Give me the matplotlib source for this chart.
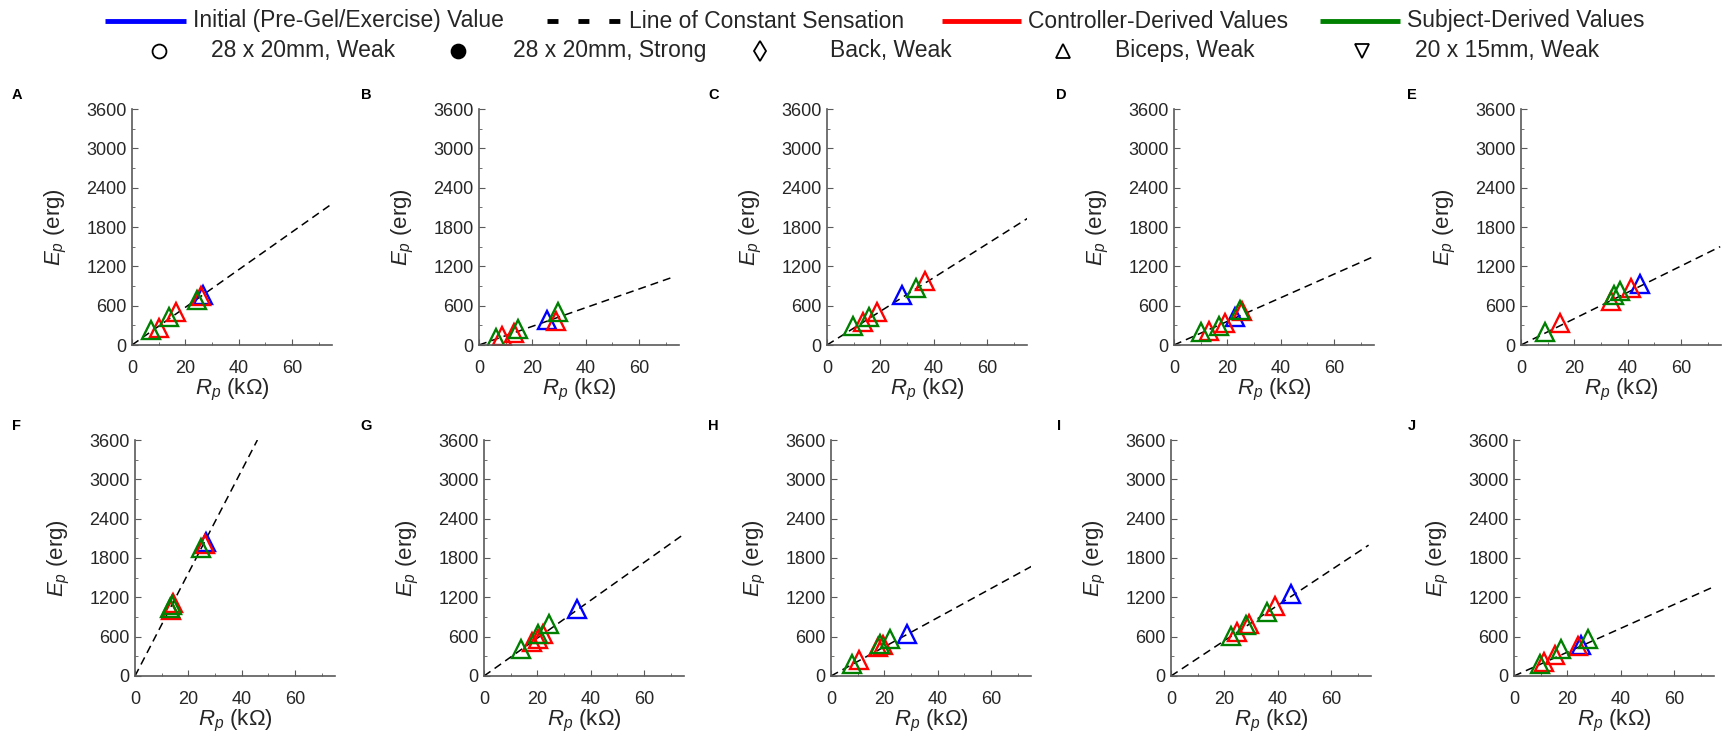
import numpy as np
import matplotlib.pyplot as plt
from matplotlib.lines import Line2D
from matplotlib.ticker import MultipleLocator

plt.rcParams['font.family'] = ['Liberation Sans', 'DejaVu Sans']
plt.rcParams['mathtext.fontset'] = 'custom'
plt.rcParams['mathtext.rm'] = 'Liberation Sans'
plt.rcParams['mathtext.it'] = 'Liberation Sans:italic'

# panel letters
panels = ['A', 'B', 'C', 'D', 'E', 'F', 'G', 'H', 'I', 'J']

# initial (pre-gel/exercise) value, R_p in kOhm, E_p in erg
blue_r = [26.8, 25.4, 28.2, 23.0, 44.8, 26.6, 34.8, 28.4, 45.0, 25.1]
blue_e = [770, 380, 763, 422, 932, 2047, 1029, 647, 1258, 468]

# controller-derived values
red_r = [[10.0, 16.5, 25.8], [8.5, 13.0, 29.0], [13.5, 18.8, 36.8],
         [13.0, 19.2, 25.5], [14.7, 33.9, 41.3], [13.6, 14.4, 26.2],
         [17.9, 20.4, 22.0], [10.6, 17.5, 19.4], [24.8, 29.1, 39.1],
         [11.4, 15.2, 24.0]]
red_e = [[265, 500, 745], [130, 180, 370], [356, 509, 977],
         [219, 330, 519], [331, 672, 866], [1000, 1110, 2010],
         [519, 570, 636], [239, 443, 468], [672, 799, 1069],
         [214, 316, 453]]

# subject-derived values
green_r = [[7.3, 14.0, 24.3], [6.5, 14.7, 29.8], [9.8, 15.7, 33.2],
           [10.0, 17.0, 24.6], [9.0, 35.0, 37.0], [13.0, 13.8, 24.6],
           [13.8, 20.1, 24.4], [7.8, 18.4, 22.1], [22.5, 28.1, 36.0],
           [9.6, 17.6, 27.9]]
green_e = [[225, 420, 680], [100, 240, 510], [290, 433, 865],
           [203, 290, 534], [204, 764, 825], [1030, 1090, 1960],
           [418, 636, 800], [178, 494, 570], [606, 774, 978],
           [188, 417, 570]]

# end point of the line of constant sensation (starts at origin)
line_end_r = [75.0, 73.2, 75.3, 75.5, 74.7, 45.9, 74.8, 75.3, 74.1, 74.8]
line_end_e = [2154, 1042, 1934, 1360, 1500, 3600, 2159, 1675, 1996, 1359]

W, H = 1730, 747
fig = plt.figure(figsize=(W / 100, H / 100), dpi=100)

lefts = [132, 479, 827, 1174, 1521, 135, 484, 831, 1171, 1514]
letter_x = [12, 361, 708, 1056, 1407, 12, 360, 708, 1057, 1408]
tops = [109, 440]
bottoms = [345, 676]
letter_y = [95, 426]

BLUE = (0, 0, 1)
RED = (1, 0, 0)
GREEN = (0, 0.5, 0)
TXT = '#262626'
AXC = '#5a5a5a'

for i, p in enumerate(panels):
    row = i // 5
    ax = fig.add_axes([lefts[i] / W, 1 - bottoms[row] / H, 200 / W,
                       (bottoms[row] - tops[row]) / H])
    ax.plot([0, line_end_r[i]], [0, line_end_e[i]], color='k', lw=1.1,
            dashes=(5.2, 3.3))
    ax.plot(blue_r[i], blue_e[i], '^', ms=12.5, mfc='none', mec=BLUE, mew=1.7)
    ax.plot(red_r[i], red_e[i], '^', ms=12.5, mfc='none', mec=RED, mew=1.7,
            ls='none')
    ax.plot(green_r[i], green_e[i], '^', ms=12.5, mfc='none', mec=GREEN,
            mew=1.7, ls='none')

    ax.set_xlim(0, 75)
    ax.set_ylim(0, 3600)
    ax.xaxis.set_major_locator(MultipleLocator(20))
    ax.xaxis.set_minor_locator(MultipleLocator(10))
    ax.yaxis.set_major_locator(MultipleLocator(600))
    ax.yaxis.set_minor_locator(MultipleLocator(300))
    ax.spines['top'].set_visible(False)
    ax.spines['right'].set_visible(False)
    for s in ('left', 'bottom'):
        ax.spines[s].set_color(AXC)
        ax.spines[s].set_linewidth(1.2)
    ax.tick_params(which='both', direction='in', colors=AXC,
                   labelcolor=TXT, labelsize=13)
    ax.tick_params(axis='x', which='major', pad=11, length=4)
    ax.tick_params(axis='y', which='major', pad=4, length=4)
    ax.tick_params(which='minor', length=2.5)
    ax.set_xlabel(r'$\mathit{R}_{\mathit{p}}$ (k$\Omega$)', fontsize=16,
                  color=TXT, labelpad=0)
    ax.set_ylabel(r'$\mathit{E}_{\mathit{p}}$ (erg)', fontsize=16,
                  color=TXT, labelpad=12)

    fig.text(letter_x[i] / W, 1 - letter_y[row] / H, p, fontsize=10.5,
             fontweight='bold', va='center', ha='left')

# legend at the top
def fx(px):
    return px / W

def fy(py):
    return 1 - py / H

row1 = [(105, 186, 193, BLUE, 'solid', 'Initial (Pre-Gel/Exercise) Value'),
        (547, 622, 629, 'k', 'dashed', 'Line of Constant Sensation'),
        (942, 1021, 1028, RED, 'solid', 'Controller-Derived Values'),
        (1320, 1400, 1407, GREEN, 'solid', 'Subject-Derived Values')]
for x0, x1, xt, c, ls, label in row1:
    ln = Line2D([fx(x0), fx(x1)], [fy(21), fy(21)], transform=fig.transFigure,
                color=c, lw=3.5, solid_capstyle='butt', dash_capstyle='butt')
    if ls == 'dashed':
        ln.set_dashes((2.26, 4.1))
    fig.add_artist(ln)
    fig.text(fx(xt), fy(21), label, fontsize=16.5,
             va='center', ha='left', color=TXT)

row2 = [(159, 211, 'o', 'none', '28 x 20mm, Weak'),
        (458, 513, 'o', 'k', '28 x 20mm, Strong'),
        (760, 830, 'd', 'none', 'Back, Weak'),
        (1063, 1115, '^', 'none', 'Biceps, Weak'),
        (1362, 1415, 'v', 'none', '20 x 15mm, Weak')]
for xm, xt, m, fc, label in row2:
    fig.add_artist(Line2D([fx(xm)], [fy(51)], transform=fig.transFigure,
                          marker=m, ms=10, mfc=fc, mec='k', mew=1.3,
                          ls='none'))
    fig.text(fx(xt), fy(51), label, fontsize=16.5,
             va='center', ha='left', color=TXT)

fig.savefig('out.png', dpi=100)
